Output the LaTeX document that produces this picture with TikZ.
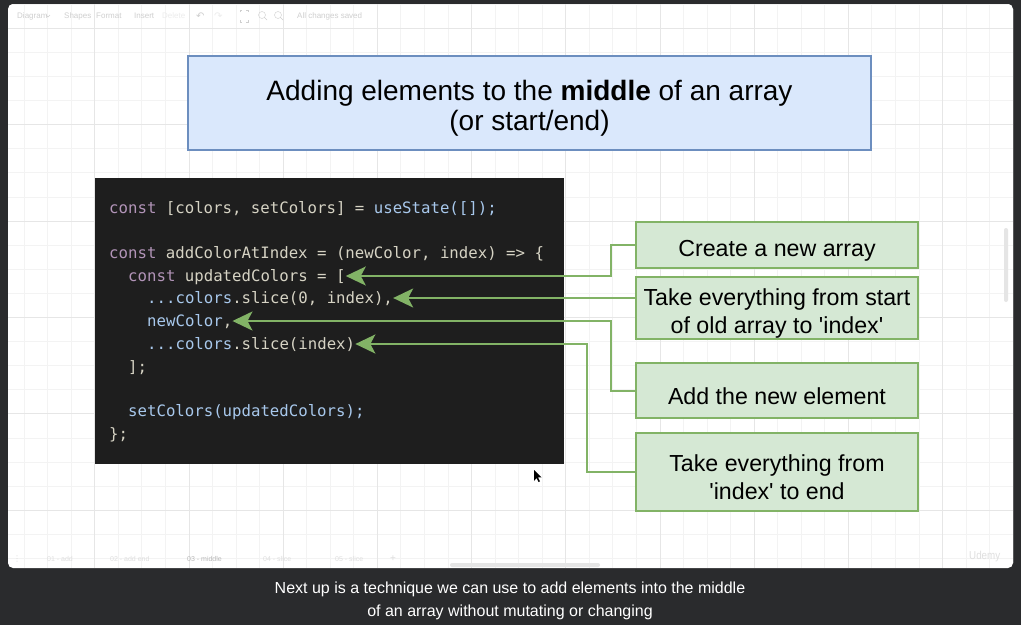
\documentclass[tikz,border=0pt]{standalone}
\usepackage{fontspec}
\setmainfont{Liberation Sans}
\setmonofont{DejaVu Sans Mono}
\newfontfamily\capfont[FakeStretch=0.85]{Liberation Sans}
\newfontfamily\symfont{DejaVu Sans}
\usetikzlibrary{arrows.meta, positioning}
\definecolor{darkbg}{HTML}{2A2B2D}
\definecolor{codebg}{HTML}{1E1E1E}
\definecolor{titlefill}{HTML}{DAE8FC}
\definecolor{titleline}{HTML}{6C8EBF}
\definecolor{notefill}{HTML}{D5E8D4}
\definecolor{noteline}{HTML}{82B366}
\definecolor{kwcol}{HTML}{B294B8}
\definecolor{plaincol}{HTML}{D6D3C4}
\definecolor{fncol}{HTML}{A8C8EC}
\definecolor{uigray}{HTML}{CFCFCF}
\definecolor{gridminor}{HTML}{F3F3F3}
\definecolor{gridmajor}{HTML}{E6E6E6}
\newcommand{\kw}[1]{\textcolor{kwcol}{#1}}
\newcommand{\fn}[1]{\textcolor{fncol}{#1}}
\newcommand{\sq}{\textquotesingle}
\newcommand{\tagstrut}{\rule{0pt}{27.5pt}}
\newcommand{\titlestrut}{\rule{0pt}{30pt}}

\begin{document}
\begin{tikzpicture}[
  x=1pt, y=-1pt,
  titlebox/.style = {draw=titleline, fill=titlefill, line width=2pt, align=center,
                     font=\fontsize{28}{30}\selectfont, inner sep=0pt},
  codebox/.style  = {fill=codebg, inner sep=0pt},
  codeline/.style = {anchor=west, inner sep=0pt, text=plaincol,
                     font=\ttfamily\fontsize{15.7}{18}\selectfont,
                     text height=1.31em, text depth=0.26em},
  tagbox/.style   = {draw=noteline, fill=notefill, line width=2pt, align=center,
                     minimum width=282pt, inner sep=0pt,
                     font=\fontsize{23.2}{28}\selectfont},
  conn/.style     = {draw=noteline, line width=2pt,
                     -{Stealth[length=20pt, width=19pt, inset=5pt]}},
  uitext/.style   = {text=uigray, inner sep=0pt, anchor=west, font=\fontsize{8}{9}\selectfont},
  tabtext/.style  = {uitext, font=\fontsize{7}{8}\selectfont, text=gray!25},
]
  \useasboundingbox (0,0) rectangle (1021,625);
  \fill[darkbg] (0,0) rectangle (1021,625);

  % canvas with grid
  \fill[white, rounded corners=5pt] (8,4) rectangle (1013,568);
  \begin{scope}
    \clip[rounded corners=5pt] (8,4) rectangle (1013,568);
    \foreach \i in {0,...,43} {
      \draw[gridminor, line width=0.8pt] (0.5+23.55*\i,4) -- (0.5+23.55*\i,568);
    }
    \foreach \i in {-1,...,22} {
      \draw[gridminor, line width=0.8pt] (8,28.2+24.1*\i) -- (1013,28.2+24.1*\i);
    }
    \foreach \i in {0,...,10} {
      \draw[gridmajor, line width=0.8pt] (0.5+94.2*\i,4) -- (0.5+94.2*\i,568);
    }
    \foreach \i in {0,...,5} {
      \draw[gridmajor, line width=0.8pt] (8,28.2+96.4*\i) -- (1013,28.2+96.4*\i);
    }
  \end{scope}

  % toolbar and tabs
  \node[uitext] (tbdiag)  at (17,16)  {Diagram};
  \draw[uigray] (46,15) -- (48,17) -- (50,15);
  \node[uitext] (tbshape) at (64,16)  {Shapes};
  \node[uitext] (tbform)  at (96,16)  {Format};
  \node[uitext] (tbins)   at (134,16) {Insert};
  \node[uitext, text=gray!15] (tbdel) at (162,16) {Delete};
  \node[uitext, font=\symfont\fontsize{10}{10}\selectfont] (tbundo) at (196,16) {↶};
  \node[uitext, text=gray!15, font=\symfont\fontsize{10}{10}\selectfont] (tbredo) at (214,16) {↷};
  \draw[uigray] (240,12) -- (240,10) -- (242,10) (246,10) -- (248,10) -- (248,12)
                (240,20) -- (240,22) -- (242,22) (246,22) -- (248,22) -- (248,20);
  \draw[uigray] (262,15) circle (3.5pt) (264.5,17.5) -- (267,20);
  \draw[uigray] (278,15) circle (3.5pt) (280.5,17.5) -- (283,20);
  \node[uitext] (tbsaved) at (297,16) {All changes saved};

  \node[tabtext, font=\symfont\fontsize{8}{8}\selectfont] (tabdots) at (13,559) {⋮};
  \node[tabtext] (tab1) at (47,559)  {01 - add};
  \node[tabtext] (tab2) at (110,559) {02 - add end};
  \node[tabtext, text=gray!55] (tab3) at (187,559) {03 - middle};
  \node[tabtext] (tab4) at (263,559) {04 - slice};
  \node[tabtext] (tab5) at (335,559) {05 - slice};
  \node[tabtext, font=\fontsize{10}{10}\selectfont] (tabplus) at (390,559) {+};
  \fill[gray!20, rounded corners=2pt] (450,563) rectangle (600,567);
  \fill[gray!20, rounded corners=2pt] (1004,228) rectangle (1008,302);
  \node[uitext, text=gray!25, font=\capfont\fontsize{11.5}{11.5}\selectfont] (udemy) at (969,557) {Udemy};

  % title
  \node[titlebox, minimum width=683pt, minimum height=94pt] (title) at (529.5,103)
    {\titlestrut Adding elements to the \textbf{middle} of an array\\(or start/end)};

  % code
  \node[codebox, minimum width=469pt, minimum height=286pt] (code) at (329.5,321) {};
  \node[codeline] (state) at (109,208) {\kw{const} [colors, setColors] = \fn{useState([]);}};
  \node[codeline] (func)  at (109,253) {\kw{const} addColorAtIndex = (newColor, index) => \{};
  \node[codeline] (upd)   at (128,276) {\kw{const} updatedColors = [};
  \node[codeline] (head)  at (147,298) {\fn{...colors}.slice(0, index),};
  \node[codeline] (nc)    at (147,321) {\fn{newColor},};
  \node[codeline] (tail)  at (147,344) {\fn{...colors}.slice(index)};
  \node[codeline] (close) at (128,367) {];};
  \node[codeline] (setc)  at (128,411) {\fn{setColors(updatedColors);}};
  \node[codeline] (fend)  at (109,434) {\};};

  % notes
  \node[tagbox, minimum height=46pt] (newarr) at (777,245)   {\tagstrut Create a new array};
  \node[tagbox, minimum height=62pt] (first)  at (777,308)   {\tagstrut Take everything from start\\of old array to \sq index\sq};
  \node[tagbox, minimum height=55pt] (addel)  at (777,390.5) {\tagstrut Add the new element};
  \node[tagbox, minimum height=78pt] (rest)   at (777,472)   {\tagstrut Take everything from\\\sq index\sq{} to end};

  \draw[conn] (newarr.west) -- ++(-24,0) |- (upd.east);
  \draw[conn] (first.west |- head.east) -- (head.east);
  \draw[conn] (addel.west) -- ++(-24,0) |- (nc.east);
  \draw[conn] (rest.west) -- ++(-48,0) |- (tail.east);

  % mouse pointer
  \fill[black] (534,470) -- (534,481) -- (536.5,478) -- (538.5,482) -- (540,481.3)
               -- (538,477.3) -- (541.5,477.3) -- cycle;

  % caption
  \node[align=center, text=white, font=\fontsize{16}{23}\selectfont] (caption) at (510,601)
    {Next up is a technique we can use to add elements into the middle\\of an array without mutating or changing};
\end{tikzpicture}
\end{document}
